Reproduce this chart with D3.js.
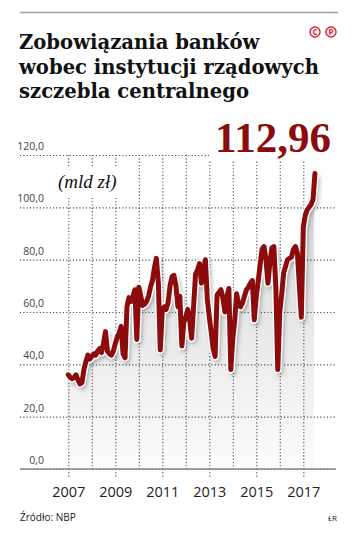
<!DOCTYPE html>
<html>
<head>
<meta charset="utf-8">
<style>
body { margin: 0; background: #fff; }
.title { font-family: "DejaVu Serif", serif; font-weight: bold; font-size: 19.6px; fill: #111; }
.tick text { font-family: "Open Sans", sans-serif; }
.note { font-family: "Open Sans", sans-serif; fill: #222; }
</style>
<script src="https://d3js.org/d3.v7.min.js"></script>
</head>
<body>
<svg id="chart" width="353" height="535"></svg>
<script>
// monthly, Jan 2007 .. Jul 2017 (mld zl)
var startMonth = new Date(2007, 0, 1);
var values = [
  36, 35, 34.5, 35, 36, 34, 32.5, 33, 38, 41, 43.5, 42,
  43, 44, 43.5, 45, 46, 44.5, 48, 52.5, 45, 44, 43.5, 45,
  48, 50.5, 52, 54.5, 44, 42.5, 62, 65.5, 64, 66, 68.5, 49.5,
  69.5, 66, 62.5, 63, 64, 66, 69.5, 72, 77, 80.5, 71, 45.5,
  60.5, 62, 61, 63.5, 70, 73.5, 74, 70, 62, 66, 47, 56,
  58, 61, 57, 50, 62, 74.5, 76, 78.5, 71, 76, 80, 65,
  58, 52, 46, 43, 66.5, 67.5, 68.5, 65, 60, 66, 69, 38,
  50, 57, 67, 63, 62, 63.5, 66, 68.5, 69.5, 71, 72, 57,
  66, 72, 78, 84, 85, 80, 71, 79, 84.5, 85, 69.5, 38,
  60, 67, 75, 77.5, 80, 80.5, 81, 84, 85, 82.5, 70, 58,
  92.5, 97, 99, 100, 101, 103, 112.96
];
var yTicks = [0, 20, 40, 60, 80, 100, 120];
var gridYears = [2007, 2008, 2009, 2010, 2011, 2012, 2013, 2014, 2015, 2016, 2017];
var labelYears = [2007, 2009, 2011, 2013, 2015, 2017];
var lastLabel = "112,96";

var data = values.map(function(v, i) {
    return {date: d3.timeMonth.offset(startMonth, i), value: v};
});

var pl = d3.formatLocale({decimal: ",", thousands: " ", grouping: [3], currency: ["", " zł"]});
var fmt = pl.format(".1f");

var svg = d3.select("#chart");
var defs = svg.append("defs");

var x = d3.scaleTime()
    .domain([new Date(2007, 0, 1), new Date(2018, 0, 1)])
    .range([68.3, 326.8]);
var y = d3.scaleLinear().domain([0, 120]).range([469, 155]);

// header
svg.append("line").attr("x1", 20).attr("x2", 338).attr("y1", 12.5).attr("y2", 12.5)
    .attr("stroke", "#a0a0a0").attr("stroke-width", 1.5);

var titleLines = ["Zobowiązania banków", "wobec instytucji rządowych", "szczebla centralnego"];
svg.selectAll(".title").data(titleLines).enter().append("text")
    .attr("class", "title")
    .attr("x", 19)
    .attr("y", function(d, i) { return 49 + i * 24.5; })
    .text(function(d) { return d; });

// (c)(p) mark
var cp = svg.append("g").attr("transform", "translate(315,32)");
["C", "P"].forEach(function(l, i) {
    cp.append("circle").attr("cx", i * 16).attr("cy", 0).attr("r", 5)
        .attr("fill", "none").attr("stroke", "#e3202a").attr("stroke-width", 1.4);
    cp.append("text").attr("x", i * 16).attr("y", 3)
        .attr("text-anchor", "middle")
        .style("font-family", "Open Sans, sans-serif").style("font-weight", "bold")
        .style("font-size", "8px").attr("fill", "#e3202a").text(l);
});

// shading under the line
var grad = defs.append("linearGradient").attr("id", "shade")
    .attr("gradientUnits", "userSpaceOnUse")
    .attr("x1", 0).attr("x2", 0).attr("y1", 200).attr("y2", 469);
grad.append("stop").attr("offset", "0").attr("stop-color", "#d8d8d8");
grad.append("stop").attr("offset", "1").attr("stop-color", "#fcfcfc");

var blur = defs.append("filter").attr("id", "blur")
    .attr("x", "-10%").attr("y", "-10%").attr("width", "120%").attr("height", "120%");
blur.append("feGaussianBlur").attr("stdDeviation", 2);

var area = d3.area()
    .x(function(d) { return x(d.date); })
    .y0(y(0))
    .y1(function(d) { return y(d.value); });

svg.append("path").datum(data)
    .attr("d", area)
    .attr("transform", "translate(-1,3)")
    .attr("fill", "url(#shade)");

// horizontal gridlines + value labels
var yAxis = d3.axisRight(y).tickValues(yTicks).tickSize(316).tickFormat(fmt);
var gy = svg.append("g").attr("transform", "translate(20,0)").call(yAxis);
gy.select(".domain").remove();
gy.selectAll(".tick line")
    .attr("stroke", "#444").attr("stroke-width", 1.1)
    .attr("stroke-dasharray", "1.1,2.2");
gy.selectAll(".tick text")
    .attr("x", 24).attr("dy", -5.5)
    .attr("text-anchor", "end")
    .style("font-size", "10.5px").attr("fill", "#444");

// vertical gridlines
var xGrid = d3.axisBottom(x)
    .tickValues(gridYears.map(function(yr) { return new Date(yr, 0, 1); }))
    .tickSize(y(0) - y(120)).tickFormat("");
var gx = svg.append("g").attr("transform", "translate(0," + y(120) + ")").call(xGrid);
gx.select(".domain").remove();
gx.selectAll(".tick line")
    .attr("stroke", "#444").attr("stroke-width", 1.1)
    .attr("stroke-dasharray", "1.1,2.2");

// baseline + year labels
var xAxis = d3.axisBottom(x)
    .tickValues(labelYears.map(function(yr) { return new Date(yr, 0, 1); }))
    .tickSize(8).tickPadding(10)
    .tickFormat(d3.timeFormat("%Y"));
var gxa = svg.append("g").attr("transform", "translate(0," + y(0) + ")").call(xAxis);
gxa.select(".domain").remove();
gxa.selectAll(".tick line")
    .attr("stroke", "#444").attr("stroke-width", 1.1)
    .attr("stroke-dasharray", "1.1,2.2");
gxa.selectAll(".tick text")
    .style("font-size", "14.5px").attr("fill", "#222");

svg.append("line").attr("x1", 20).attr("x2", 336).attr("y1", y(0)).attr("y2", y(0))
    .attr("stroke", "#8a8a8a").attr("stroke-width", 1.5);

// unit label on white
var unit = svg.append("g");
var unitText = unit.append("text")
    .attr("x", 58).attr("y", 188)
    .style("font-family", "Liberation Serif, serif").style("font-style", "italic")
    .style("font-size", "19px").attr("fill", "#111")
    .text("(mld zł)");
var ub = unitText.node().getBBox();
unit.insert("rect", "text")
    .attr("x", ub.x - 4).attr("y", ub.y - 4)
    .attr("width", ub.width + 8).attr("height", ub.height + 8)
    .attr("fill", "#fff");

// the line
var line = d3.line()
    .x(function(d) { return x(d.date); })
    .y(function(d) { return y(d.value); });

svg.append("path").datum(data)
    .attr("d", line)
    .attr("transform", "translate(2,3)")
    .attr("fill", "none").attr("stroke", "#555").attr("stroke-opacity", 0.45)
    .attr("stroke-width", 6).attr("stroke-linejoin", "round")
    .attr("filter", "url(#blur)");
svg.append("path").datum(data)
    .attr("d", line)
    .attr("fill", "none").attr("stroke", "#fff")
    .attr("stroke-width", 8).attr("stroke-linejoin", "round").attr("stroke-linecap", "round");
svg.append("path").datum(data)
    .attr("d", line)
    .attr("fill", "none").attr("stroke", "#8c0b0c")
    .attr("stroke-width", 5).attr("stroke-linejoin", "round").attr("stroke-linecap", "round");

// last value
var big = svg.append("g");
var bigText = big.append("text")
    .attr("x", 331).attr("y", 152)
    .attr("text-anchor", "end")
    .style("font-family", "Liberation Serif, serif").style("font-weight", "bold")
    .style("font-size", "43px").attr("fill", "#8c0b0c")
    .text(lastLabel);
var bb = bigText.node().getBBox();
big.insert("rect", "text")
    .attr("x", bb.x - 6).attr("y", bb.y)
    .attr("width", bb.width + 12).attr("height", bb.height)
    .attr("fill", "#fff");

// footer
svg.append("text").attr("class", "note")
    .attr("x", 20).attr("y", 521)
    .style("font-size", "10px")
    .text("Źródło: NBP");
svg.append("text").attr("class", "note")
    .attr("x", 337).attr("y", 521)
    .attr("text-anchor", "end")
    .style("font-size", "8px")
    .text("ŁR");
</script>
</body>
</html>
